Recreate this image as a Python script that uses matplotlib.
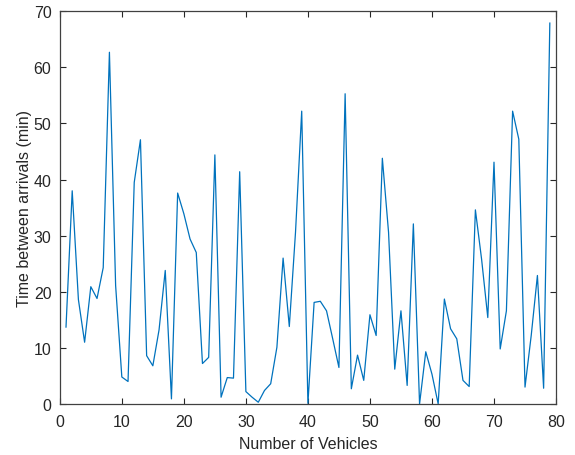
import numpy as np
import matplotlib
matplotlib.use("Agg")
import matplotlib.pyplot as plt

plt.rcParams["font.family"] = ["Liberation Sans", "DejaVu Sans"]

# Vehicle index (1..79) and measured time between arrivals in minutes.
vehicles = np.arange(1, 80)
time_between = [
    13.7, 38.0, 18.6, 11.0, 20.9, 18.8, 24.3, 62.7, 21.1, 4.8,
    4.0, 39.5, 47.1, 8.6, 6.8, 13.2, 23.8, 0.9, 37.6, 33.9,
    29.4, 27.0, 7.2, 8.3, 44.4, 1.2, 4.7, 4.6, 41.4, 2.2,
    1.2, 0.3, 2.4, 3.6, 10.1, 26.0, 13.8, 30.6, 52.2, 0.1,
    18.1, 18.3, 16.6, 11.6, 6.5, 55.3, 2.7, 8.7, 4.2, 15.9,
    12.2, 43.8, 30.6, 6.2, 16.6, 3.3, 32.1, 0.0, 9.3, 5.3,
    0.0, 18.7, 13.4, 11.6, 4.2, 3.1, 34.6, 25.8, 15.4, 43.1,
    9.8, 16.6, 52.2, 47.2, 3.0, 12.2, 22.9, 2.8, 67.9,
]

AXIS_GRAY = "#262626"

fig = plt.figure(figsize=(5.75, 4.56), dpi=100)
ax = fig.add_axes([0.104, 0.112, 0.863, 0.861])

ax.plot(vehicles, time_between, "-", color="#0072BD", linewidth=0.9)

ax.set_xlim(0, 80)
ax.set_ylim(0, 70)
ax.set_xticks(np.arange(0, 81, 10))
ax.set_yticks(np.arange(0, 71, 10))
ax.set_xlabel("Number of Vehicles", fontsize=11.5, color=AXIS_GRAY, labelpad=5)
ax.set_ylabel("Time between arrivals (min)", fontsize=11.5, color=AXIS_GRAY,
              labelpad=1)

ax.tick_params(direction="in", top=True, right=True, length=4, width=0.8,
               labelsize=11.5, colors=AXIS_GRAY)
ax.tick_params(axis="x", pad=7)
ax.tick_params(axis="y", pad=6)
for spine in ax.spines.values():
    spine.set_color("#404040")
    spine.set_linewidth(0.9)

fig.savefig("out.png", dpi=100)
